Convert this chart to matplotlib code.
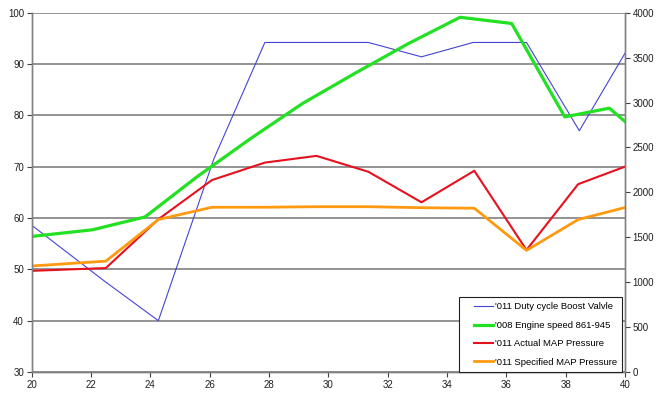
import matplotlib
matplotlib.use("Agg")
import matplotlib.pyplot as plt
import numpy as np
from matplotlib.legend_handler import HandlerLine2D

plt.rcParams['font.family'] = ['Liberation Sans', 'DejaVu Sans']

# Duty cycle (left axis, %)
duty_x = [20, 22.5, 24.27, 26.14, 27.86, 31.35, 33.14, 34.88, 36.68, 38.46, 40]
duty_y = [58.6, 47.5, 40.0, 71.5, 94.2, 94.2, 91.4, 94.2, 94.2, 77.0, 92.1]

# Engine speed (right axis, rpm)
rpm_x = [20, 22.05, 23.82, 25.59, 27.36, 29.13, 30.9, 32.67, 34.44, 36.18, 37.97, 39.47, 40]
rpm_y = [1509, 1583, 1726, 2177, 2594, 2989, 3326, 3651, 3949, 3880, 2840, 2937, 2789]

# MAP pressures (right axis, mbar)
map_x = [20, 22.5, 24.27, 26.08, 27.86, 29.6, 31.35, 33.14, 34.92, 36.68, 38.42, 40]
map_actual = [1126, 1157, 1700, 2137, 2331, 2406, 2229, 1889, 2240, 1358, 2091, 2286]
map_spec = [1180, 1234, 1697, 1834, 1834, 1840, 1840, 1829, 1823, 1354, 1697, 1831]

labels = ["'011 Duty cycle Boost Valvle", "'008 Engine speed 861-945",
          "'011 Actual MAP Pressure", "'011 Specified MAP Pressure"]


class ShiftedLineHandler(HandlerLine2D):
    """Draws the legend line only in the right part of the handle box."""
    def get_xdata(self, legend, xdescent, ydescent, width, height, fontsize):
        seg = 2.05 * fontsize
        xd = np.array([-xdescent + width - seg, -xdescent + width])
        return xd, xd


fig = plt.figure(figsize=(6.57, 3.99), dpi=100)
ax = fig.add_axes([0.0482, 0.0677, 0.9031, 0.9005])
ax2 = ax.twinx()

grid_c = '#808080'
ax.set_xlim(20, 40)
ax.set_ylim(30, 100)
ax.set_xticks(range(20, 41, 2))
ax.set_yticks(range(30, 101, 10))
ax2.set_ylim(0, 4000)
ax2.set_yticks(range(0, 4001, 500))
ax.yaxis.grid(True, color=grid_c, linewidth=1.2)
ax.set_axisbelow(True)

for a in (ax, ax2):
    for s in a.spines.values():
        s.set_color(grid_c)
        s.set_linewidth(1.0)
    a.spines['top'].set_visible(False)
    a.tick_params(direction='out', length=3.5, width=0.8, color='#404040',
                  labelsize=7, labelcolor='#202020', pad=2)

l1, = ax.plot(duty_x, duty_y, color='#4444d4', linewidth=0.8)
l2, = ax2.plot(rpm_x, rpm_y, color='#22e022', linewidth=2.3)
l3, = ax2.plot(map_x, map_actual, color='#e8101c', linewidth=1.5)
l4, = ax2.plot(map_x, map_spec, color='#ff9a10', linewidth=2.0)

h = ShiftedLineHandler()
leg = ax2.legend([l1, l2, l3, l4], labels, loc='lower right',
                 bbox_to_anchor=(0.995, 0.0), fontsize=6.8, frameon=True,
                 fancybox=False, framealpha=1, edgecolor='#202020',
                 handlelength=3.05, labelspacing=1.0, borderpad=0.55,
                 handletextpad=0.15, borderaxespad=0,
                 handler_map={l1: h, l2: h, l3: h, l4: h})
leg.get_frame().set_linewidth(0.8)

fig.savefig('out.png', dpi=100, facecolor='white')
